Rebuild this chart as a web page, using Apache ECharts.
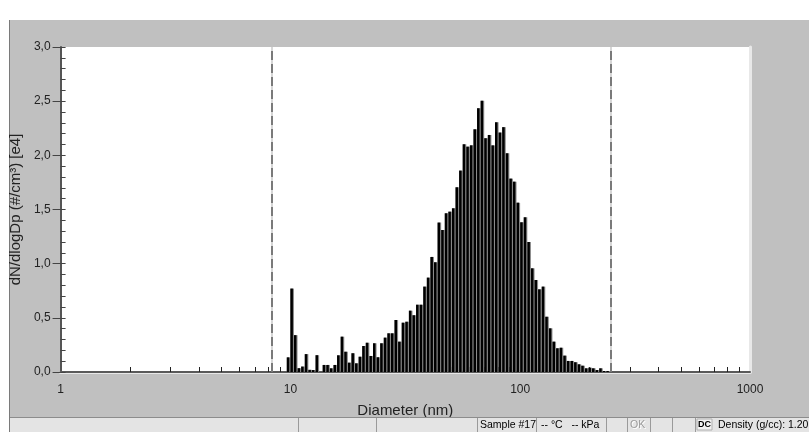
<!DOCTYPE html>
<html>
<head>
<meta charset="utf-8">
<script src="https://cdn.jsdelivr.net/npm/echarts@6/dist/echarts.min.js"></script>
<style>
  html, body { margin: 0; padding: 0; background: #ffffff; }
  #chart { width: 809px; height: 432px; }
</style>
</head>
<body>
<div id="chart"></div>
<script>
// SMPS size distribution, 64 channels per decade (channel midpoints, nm)
const diameters = [9.82, 10.18, 10.55, 10.94, 11.34, 11.76, 12.19, 12.63, 13.10, 13.58,
  14.07, 14.59, 15.12, 15.68, 16.25, 16.85, 17.47, 18.11, 18.77, 19.46,
  20.17, 20.91, 21.67, 22.47, 23.29, 24.14, 25.03, 25.95, 26.90, 27.88,
  28.90, 29.96, 31.06, 32.20, 33.38, 34.59, 35.86, 37.18, 38.54, 39.95,
  41.41, 42.93, 44.50, 46.13, 47.82, 49.57, 51.38, 53.26, 55.21, 57.23,
  59.33, 61.50, 63.75, 66.08, 68.50, 71.01, 73.61, 76.30, 79.10, 81.99,
  84.99, 88.10, 91.33, 94.67, 98.14, 101.8, 105.5, 109.4, 113.4, 117.5,
  121.8, 126.3, 130.9, 135.7, 140.7, 145.9, 151.2, 156.8, 162.5, 168.5,
  174.7, 181.1, 187.7, 194.6, 201.7, 209.1, 216.7, 224.7, 232.9, 241.4];

// dN/dlogDp in units of 1e4 #/cm3
const concentration = [0.135, 0.77, 0.34, 0.035, 0.05, 0.165, 0.02, 0.018, 0.155, 0,
  0.065, 0.065, 0.034, 0.065, 0.154, 0.326, 0.187, 0.086, 0.173, 0.08,
  0.141, 0.24, 0.27, 0.148, 0.265, 0.136, 0.265, 0.317, 0.357, 0.357,
  0.48, 0.28, 0.455, 0.464, 0.566, 0.524, 0.621, 0.621, 0.788, 0.871,
  1.062, 1.013, 1.379, 1.311, 1.465, 1.48, 1.511, 1.705, 1.859, 2.102,
  2.08, 2.092, 2.24, 2.435, 2.505, 2.158, 2.188, 2.092, 2.305, 2.21,
  2.26, 2.019, 1.785, 1.757, 1.563, 1.382, 1.428, 1.2, 0.957, 0.849,
  0.763, 0.788, 0.51, 0.403, 0.28, 0.219, 0.224, 0.151, 0.102, 0.102,
  0.09, 0.071, 0.058, 0.034, 0.04, 0.034, 0.018, 0.034, 0.009, 0.009];

// Scan range limits (nm)
const scanLimits = [8.32, 249];

// Axis ticks
const xTickLabels = [1, 10, 100, 1000];
const xMinorTicks = [2, 3, 4, 5, 6, 7, 8, 9, 20, 30, 40, 50, 60, 70, 80, 90,
  200, 300, 400, 500, 600, 700, 800, 900];
const yTicks = [0, 0.5, 1.0, 1.5, 2.0, 2.5, 3.0];

const channelsPerDecade = 64;
const halfBin = Math.pow(10, 1 / (2 * channelsPerDecade));

const FONT = '"Liberation Sans", Arial, sans-serif';
const data = diameters.map((d, i) => [d, concentration[i]]);

const chart = echarts.init(document.getElementById('chart'), null, { renderer: 'canvas' });

function statusText(x, text, extra) {
  return Object.assign({
    type: 'text', x: x, y: 425,
    style: { text: text, font: '10.5px ' + FONT, fill: '#000', verticalAlign: 'middle' },
    z: 5
  }, extra || {});
}
function sep(x) {
  return { type: 'line', shape: { x1: x, y1: 418, x2: x, y2: 432 },
    style: { stroke: '#9a9a9a', lineWidth: 1 }, z: 4 };
}

const option = {
  backgroundColor: '#ffffff',
  animation: false,
  textStyle: { fontFamily: FONT },
  grid: {
    left: 60, right: 59, top: 47, bottom: 60,
    show: true, backgroundColor: '#ffffff', borderWidth: 0
  },
  graphic: [
    // gray panel
    { type: 'rect', shape: { x: 9, y: 20, width: 800, height: 397 },
      style: { fill: '#c0c0c0' }, z: -10 },
    { type: 'line', shape: { x1: 9.5, y1: 20, x2: 9.5, y2: 432 },
      style: { stroke: '#7a7a7a', lineWidth: 1 }, z: -9 },
    // status bar
    { type: 'rect', shape: { x: 10, y: 417, width: 799, height: 15 },
      style: { fill: '#e4e4e4' }, z: 3 },
    { type: 'line', shape: { x1: 10, y1: 417.5, x2: 809, y2: 417.5 },
      style: { stroke: '#8c8c8c', lineWidth: 1 }, z: 4 },
    sep(298.5), sep(376.5), sep(477.5), sep(536.5), sep(606.5), sep(627.5),
    sep(650.5), sep(672.5), sep(695.5),
    statusText(480, 'Sample #17'),
    statusText(541, '-- \u00B0C   -- kPa'),
    { type: 'text', x: 631, y: 426, z: 5,
      style: { text: 'OK', font: '10.5px ' + FONT, fill: '#ffffff', verticalAlign: 'middle' } },
    { type: 'text', x: 630, y: 425, z: 6,
      style: { text: 'OK', font: '10.5px ' + FONT, fill: '#9a9a9a', verticalAlign: 'middle' } },
    { type: 'rect', shape: { x: 697, y: 419, width: 15, height: 11 },
      style: { fill: '#f2f2f2', stroke: '#b0b0b0', lineWidth: 1 }, z: 5 },
    { type: 'text', x: 698, y: 425, z: 6,
      style: { text: 'DC', font: 'bold 9px ' + FONT, fill: '#000', verticalAlign: 'middle' } },
    statusText(718, 'Density (g/cc): 1.20')
  ],
  xAxis: [
    {
      type: 'log', logBase: 10, min: 1, max: 1000, position: 'bottom',
      name: 'Diameter (nm)', nameLocation: 'middle', nameGap: 31,
      nameTextStyle: { fontSize: 15, color: '#222', fontFamily: FONT },
      axisLine: { show: true, lineStyle: { color: '#e8e8e8', width: 3 } },
      axisTick: { show: true, inside: true, length: 5, customValues: xMinorTicks,
        lineStyle: { color: '#222', width: 1 } },
      axisLabel: { show: true, customValues: xTickLabels, margin: 12, fontSize: 12,
        color: '#222', fontFamily: FONT, formatter: v => String(Math.round(v)) },
      splitLine: { show: false }, minorTick: { show: false }
    },
    {
      type: 'log', logBase: 10, min: 1, max: 1000, position: 'top',
      axisLine: { show: true, lineStyle: { color: '#5a5a5a', width: 2 } },
      axisTick: { show: false }, axisLabel: { show: false }, splitLine: { show: false }
    }
  ],
  yAxis: [
    {
      type: 'value', min: 0, max: 3, interval: 0.5, position: 'left',
      name: 'dN/dlogDp (#/cm\u00B3) [e4]', nameLocation: 'middle', nameRotate: 90, nameGap: 31,
      nameTextStyle: { fontSize: 15, color: '#222', fontFamily: FONT },
      axisLine: { show: true, lineStyle: { color: '#555555', width: 2 } },
      axisTick: { show: true, inside: false, length: 8, lineStyle: { color: '#444', width: 1 } },
      axisLabel: { show: true, customValues: yTicks, margin: 10, fontSize: 12, color: '#222',
        fontFamily: FONT, formatter: v => v.toFixed(1).replace('.', ',') },
      splitLine: { show: false }
    },
    {
      type: 'value', min: 0, max: 3, interval: 0.5, position: 'left',
      axisLine: { show: false },
      axisTick: { show: true, inside: true, length: 5, lineStyle: { color: '#444', width: 1 } },
      minorTick: { show: true, splitNumber: 5, length: 5, lineStyle: { color: '#444', width: 1 } },
      axisLabel: { show: false }, splitLine: { show: false }
    },
    {
      type: 'value', min: 0, max: 3, position: 'right',
      axisLine: { show: true, lineStyle: { color: '#e8e8e8', width: 3 } },
      axisTick: { show: false }, axisLabel: { show: false }, splitLine: { show: false }
    }
  ],
  series: [
    {
      type: 'custom',
      xAxisIndex: 0, yAxisIndex: 0,
      data: data,
      clip: true,
      z: 3,
      renderItem: function (params, api) {
        const d = api.value(0), v = api.value(1);
        const top = api.coord([d / halfBin, v]);
        const base = api.coord([d * halfBin, 0]);
        const x0 = top[0], w = base[0] - top[0];
        const h = base[1] - top[1];
        if (h <= 0) return null;
        return {
          type: 'group',
          children: [
            { type: 'rect', shape: { x: x0, y: top[1], width: w, height: h },
              style: { fill: '#8a8a8a' } },
            { type: 'rect', shape: { x: x0, y: top[1], width: w * 0.7, height: h },
              style: { fill: '#000000' } }
          ]
        };
      },
      markLine: {
        silent: true, symbol: 'none', label: { show: false },
        lineStyle: { color: '#7a7a7a', width: 2, type: [9, 4] },
        data: [
          { xAxis: scanLimits[0], lineStyle: { color: '#d6d6d6', width: 2, type: 'solid' } },
          { xAxis: scanLimits[0] },
          { xAxis: scanLimits[1], lineStyle: { color: '#d6d6d6', width: 2, type: 'solid' } },
          { xAxis: scanLimits[1] }
        ]
      }
    }
  ]
};

chart.setOption(option);
</script>
</body>
</html>
